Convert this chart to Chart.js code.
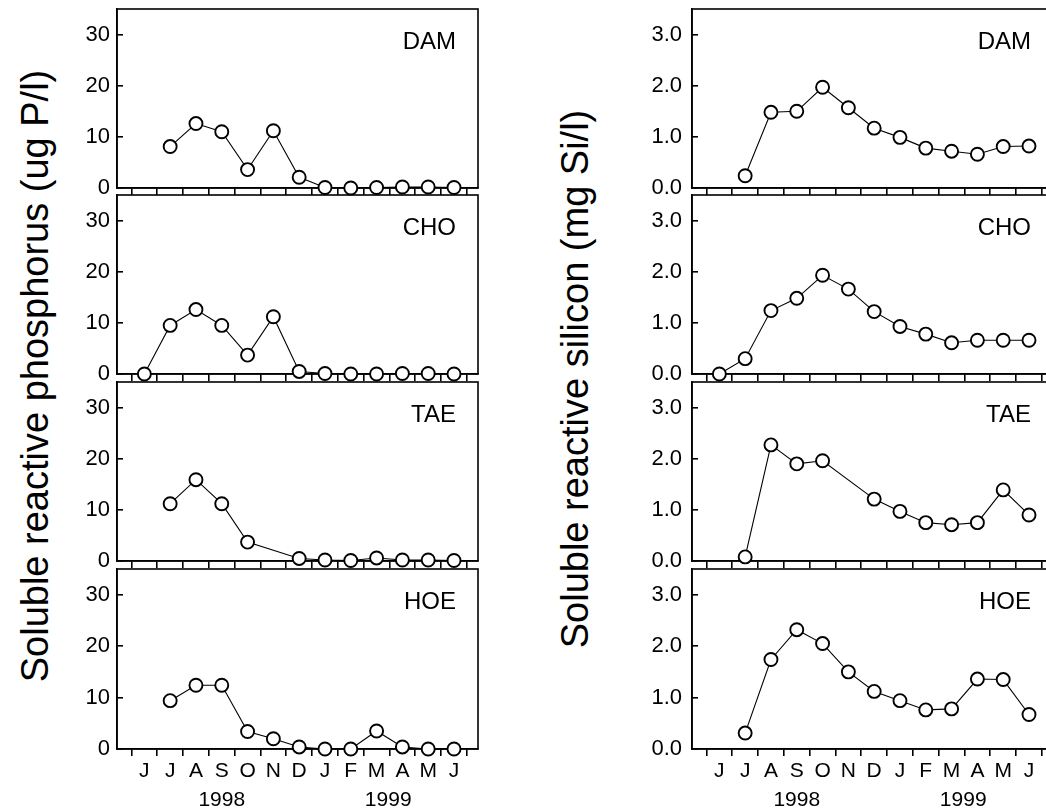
<!DOCTYPE html>
<html>
<head>
<meta charset="utf-8">
<script src="https://cdn.jsdelivr.net/npm/chart.js"></script>
<style>
  html, body { margin: 0; padding: 0; background: #fff; overflow: hidden; }
  body { width: 1046px; height: 811px; position: relative; }
  canvas { position: absolute; }
  .ytitle {
    position: absolute;
    font-family: "Liberation Sans", Arial, sans-serif;
    font-size: 38px;
    color: #000;
    white-space: nowrap;
    transform: translate(-50%, -50%) rotate(-90deg);
  }
</style>
</head>
<body>
<div class="ytitle" style="left:35px; top:376px;">Soluble reactive phosphorus (ug P/l)</div>
<div class="ytitle" style="left:575px; top:379px;">Soluble reactive silicon (mg Si/l)</div>
<script>
// months Jun 1998 .. Jun 1999
const months = ['J', 'J', 'A', 'S', 'O', 'N', 'D', 'J', 'F', 'M', 'A', 'M', 'J'];
const years = ['1998', '1999'];
const yearAt = [3, 9.45];
const sites = ['DAM', 'CHO', 'TAE', 'HOE'];

// soluble reactive phosphorus (ug P/l)
const srpDAM = [null, 8.1, 12.6, 11.0, 3.6, 11.2, 2.1, 0.1, 0.0, 0.1, 0.2, 0.2, 0.1];
const srpCHO = [0.0, 9.5, 12.6, 9.5, 3.7, 11.2, 0.5, 0.1, 0.0, 0.0, 0.1, 0.1, 0.0];
const srpTAE = [null, 11.2, 15.9, 11.2, 3.7, null, 0.5, 0.2, 0.1, 0.6, 0.2, 0.2, 0.1];
const srpHOE = [null, 9.4, 12.4, 12.4, 3.4, 2.0, 0.4, 0.0, 0.0, 3.5, 0.4, 0.0, 0.0];

// soluble reactive silicon (mg Si/l)
const srsDAM = [null, 0.24, 1.48, 1.50, 1.97, 1.57, 1.17, 0.99, 0.78, 0.72, 0.66, 0.81, 0.82];
const srsCHO = [0.0, 0.30, 1.24, 1.48, 1.93, 1.66, 1.22, 0.93, 0.78, 0.61, 0.66, 0.66, 0.66];
const srsTAE = [null, 0.08, 2.27, 1.90, 1.96, null, 1.21, 0.97, 0.75, 0.71, 0.75, 1.39, 0.90];
const srsHOE = [null, 0.31, 1.74, 2.32, 2.05, 1.50, 1.12, 0.94, 0.76, 0.78, 1.36, 1.35, 0.67];

const phosTicks = [0, 10, 20, 30];
const siTicks = [0, 1, 2, 3];

const columns = [
  { series: [srpDAM, srpCHO, srpTAE, srpHOE], ticks: phosTicks, max: 35, digits: 0, left: 57, labelPad: 13 },
  { series: [srsDAM, srsCHO, srsTAE, srsHOE], ticks: siTicks, max: 3.5, digits: 1, left: 632, labelPad: 16 }
];

const FONT = '"Liberation Sans", Arial, sans-serif';
Chart.defaults.font.family = FONT;
Chart.defaults.color = '#000';

const PLOT_H = 179;
const PAD_TOP = 30;
const rowBottom = [188, 374, 561, 748];
const X_MIN = -1.06, X_MAX = 12.93;

// ticks at month boundaries, labels at mid-month
const xTicks = [];
for (let k = -0.5; k <= 12.5; k += 0.5) xTicks.push({ value: k });

// box around the plot area and the site name in its upper right corner
const framePlugin = {
  id: 'frame',
  beforeDatasetsDraw(chart, args, opts) {
    const { ctx, chartArea: a } = chart;
    ctx.save();
    ctx.strokeStyle = '#000';
    ctx.lineWidth = 1.6;
    ctx.strokeRect(a.left, a.top, a.right - a.left, a.bottom - a.top);
    ctx.fillStyle = '#000';
    ctx.font = '24px ' + FONT;
    ctx.textAlign = 'right';
    ctx.textBaseline = 'alphabetic';
    ctx.fillText(opts.text, a.right - 22, a.top + 40);
    ctx.restore();
  }
};

function panel(col, row) {
  const c = columns[col];
  const last = row === 3;
  const cv = document.createElement('canvas');
  cv.width = 435;
  cv.height = PAD_TOP + PLOT_H + (last ? 64 : 30);
  cv.style.left = c.left + 'px';
  cv.style.top = (rowBottom[row] - PLOT_H - PAD_TOP) + 'px';
  document.body.appendChild(cv);

  const values = c.series[row];
  const points = values.map((v, i) => ({ x: i, y: v }));

  const scales = {
    x: {
      type: 'linear', min: X_MIN, max: X_MAX,
      afterBuildTicks: s => { s.ticks = xTicks.map(t => ({ value: t.value })); },
      afterFit: s => { s.height = last ? 37 : 30; },
      grid: {
        drawOnChartArea: false, tickLength: 7, lineWidth: 1.6,
        color: '#000',
        tickColor: ctx => (ctx.tick && ctx.tick.value % 1 !== 0) ? '#000' : 'rgba(0,0,0,0)'
      },
      border: { color: '#000', width: 1.6 },
      ticks: {
        display: last, autoSkip: false, maxRotation: 0, padding: 3,
        font: { size: 21 },
        callback: v => Number.isInteger(v) ? months[v] : ''
      }
    },
    y: {
      min: 0, max: c.max,
      afterBuildTicks: s => { s.ticks = c.ticks.map(v => ({ value: v })); },
      afterFit: s => { s.width = 60; },
      grid: { drawOnChartArea: false, tickLength: -6, lineWidth: 1.6, color: '#000' },
      border: { color: '#000', width: 1.6 },
      ticks: {
        padding: c.labelPad, font: { size: 22 },
        callback: v => v.toFixed(c.digits)
      }
    }
  };
  if (last) {
    scales.xYear = {
      type: 'linear', axis: 'x', position: 'bottom', min: X_MIN, max: X_MAX,
      afterBuildTicks: s => { s.ticks = yearAt.map(v => ({ value: v })); },
      afterFit: s => { s.height = 26; },
      grid: { display: false, drawTicks: false },
      border: { display: false },
      ticks: {
        autoSkip: false, maxRotation: 0, padding: 2, font: { size: 21 },
        callback: (v, i) => years[i]
      }
    };
  }

  new Chart(cv, {
    type: 'line',
    data: {
      datasets: [{
        data: points,
        borderColor: '#000',
        borderWidth: 1.1,
        pointRadius: 6.5,
        pointBorderWidth: 1.9,
        pointBackgroundColor: '#fff',
        pointBorderColor: '#000',
        spanGaps: true,
        clip: false
      }]
    },
    options: {
      responsive: false,
      animation: false,
      layout: { padding: { top: PAD_TOP, right: 14, left: 0, bottom: 0 } },
      plugins: { legend: { display: false }, tooltip: { enabled: false }, frame: { text: sites[row] } },
      scales: scales
    },
    plugins: [framePlugin]
  });
}

for (let col = 0; col < 2; col++) {
  for (let row = 0; row < 4; row++) panel(col, row);
}
</script>
</body>
</html>
